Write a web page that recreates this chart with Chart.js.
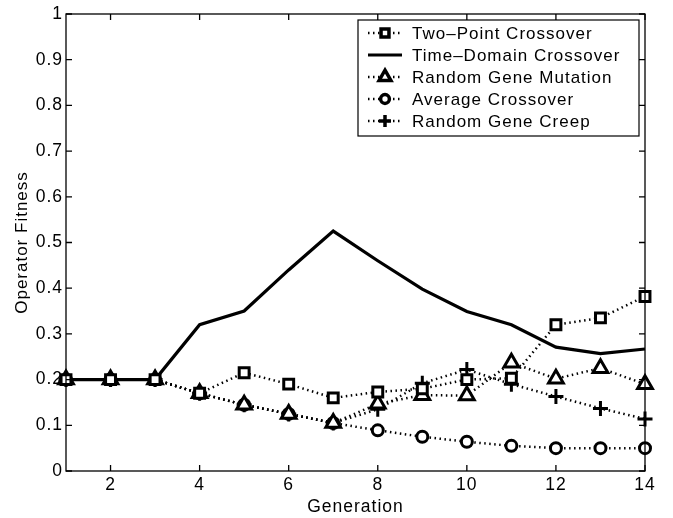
<!DOCTYPE html>
<html lang="en-US">
  <head>
    <meta charset="utf-8" />
    <title>Operator fitness per generation</title>
    <script src="https://cdn.jsdelivr.net/npm/chart.js@4.4.1/dist/chart.umd.min.js"></script>
    <style>
      html, body { margin: 0; padding: 0; background: #fff; }
      #wrap { width: 673px; height: 518px; }
    </style>
  </head>
  <body>
    <div id="wrap"><canvas id="chart"></canvas></div>

  <script>
    // Fitness of each GA operator over the generations
    const generations = [1, 2, 3, 4, 5, 6, 7, 8, 9, 10, 11, 12, 13, 14];
    const twoPoint    = [0.2, 0.2, 0.2, 0.17, 0.215, 0.19, 0.16, 0.173, 0.18, 0.2, 0.203, 0.32, 0.335, 0.382];
    const timeDomain  = [0.2, 0.2, 0.2, 0.32, 0.35, 0.44, 0.525, 0.46, 0.398, 0.349, 0.32, 0.271, 0.257, 0.267];
    const mutation    = [0.2, 0.2, 0.2, 0.17, 0.145, 0.125, 0.105, 0.147, 0.166, 0.165, 0.237, 0.202, 0.225, 0.19];
    const average     = [0.2, 0.2, 0.2, 0.17, 0.145, 0.125, 0.105, 0.089, 0.075, 0.064, 0.055, 0.05, 0.05, 0.05];
    const creep       = [0.2, 0.2, 0.2, 0.17, 0.145, 0.125, 0.105, 0.135, 0.192, 0.222, 0.19, 0.163, 0.137, 0.114];

    const seriesNames = ['Two\u2013Point Crossover', 'Time\u2013Domain Crossover', 'Random Gene Mutation', 'Average Crossover', 'Random Gene Creep'];
    const xTickValues = [2, 4, 6, 8, 10, 12, 14];
    const yTickValues = [0, 0.1, 0.2, 0.3, 0.4, 0.5, 0.6, 0.7, 0.8, 0.9, 1];

    const FONT = 'Arial, "Liberation Sans", Helvetica, sans-serif';
    const DOTS = [1.5, 3.5];

    function pts(values) {
      return values.map((v, i) => ({ x: generations[i], y: v }));
    }

    function series(label, values, style, radius, dash, width) {
      return {
        label: label,
        data: pts(values),
        borderColor: '#000',
        backgroundColor: '#000',
        borderWidth: width,
        borderDash: dash,
        pointStyle: style,
        pointRadius: radius,
        pointBorderWidth: 3,
        pointBackgroundColor: '#fff',
        pointBorderColor: '#000',
        clip: false,
        tension: 0
      };
    }

    const datasets = [
      series(seriesNames[0], twoPoint, 'rect', 7, DOTS, 2.5),
      series(seriesNames[1], timeDomain, false, 0, [], 3.2),
      series(seriesNames[2], mutation, 'triangle', 8.5, DOTS, 2.5),
      series(seriesNames[3], average, 'circle', 5.5, DOTS, 2.5),
      series(seriesNames[4], creep, 'cross', 7.5, DOTS, 2.5)
    ];

    // slightly wider lettering for every label on the canvas
    const spacingPlugin = {
      id: 'spacing',
      beforeDraw(chart) { chart.ctx.letterSpacing = '1px'; }
    };

    // box around the axes with inward ticks on every side
    const framePlugin = {
      id: 'frame',
      afterDatasetsDraw(chart) {
        const { ctx, chartArea: a, scales } = chart;
        ctx.save();
        ctx.strokeStyle = '#000';
        ctx.lineWidth = 1.3;
        ctx.strokeRect(a.left, a.top, a.right - a.left, a.bottom - a.top);
        ctx.beginPath();
        const len = 6;
        xTickValues.forEach(v => {
          const x = scales.x.getPixelForValue(v);
          ctx.moveTo(x, a.bottom); ctx.lineTo(x, a.bottom - len);
          ctx.moveTo(x, a.top); ctx.lineTo(x, a.top + len);
        });
        yTickValues.forEach(v => {
          const y = scales.y.getPixelForValue(v);
          ctx.moveTo(a.left, y); ctx.lineTo(a.left + len, y);
          ctx.moveTo(a.right, y); ctx.lineTo(a.right - len, y);
        });
        ctx.stroke();
        ctx.restore();
      }
    };

    // boxed legend in the upper right with line sample and marker
    const legendPlugin = {
      id: 'boxLegend',
      afterDraw(chart) {
        const { ctx } = chart;
        const box = { left: 358, top: 20, right: 639, bottom: 136 };
        ctx.save();
        ctx.fillStyle = '#fff';
        ctx.fillRect(box.left, box.top, box.right - box.left, box.bottom - box.top);
        ctx.strokeStyle = '#000';
        ctx.lineWidth = 1.2;
        ctx.strokeRect(box.left, box.top, box.right - box.left, box.bottom - box.top);

        chart.data.datasets.forEach((ds, i) => {
          const y = 33 + i * 22;
          ctx.strokeStyle = '#000';
          ctx.lineWidth = ds.borderWidth;
          ctx.setLineDash(ds.borderDash);
          ctx.beginPath();
          ctx.moveTo(368, y);
          ctx.lineTo(402, y);
          ctx.stroke();
          ctx.setLineDash([]);
          if (ds.pointStyle) {
            ctx.fillStyle = ds.pointBackgroundColor;
            ctx.strokeStyle = ds.pointBorderColor;
            ctx.lineWidth = 3.5;
            Chart.helpers.drawPoint(ctx, {
              pointStyle: ds.pointStyle,
              radius: ds.pointRadius * 0.8,
              borderWidth: 3.5,
              rotation: 0
            }, 385, y);
          }
          ctx.fillStyle = '#000';
          ctx.font = '17px ' + FONT;
          ctx.textBaseline = 'middle';
          ctx.textAlign = 'left';
          ctx.fillText(ds.label, 412, y + 1);
        });
        ctx.restore();
      }
    };

    new Chart(document.getElementById('chart'), {
      type: 'line',
      data: { datasets: datasets },
      plugins: [spacingPlugin, framePlugin, legendPlugin],
      options: {
        responsive: true,
        maintainAspectRatio: false,
        animation: false,
        layout: { padding: { top: 14, right: 28, left: 0, bottom: 0 } },
        plugins: {
          legend: { display: false },
          tooltip: { enabled: false }
        },
        scales: {
          x: {
            type: 'linear',
            min: 1,
            max: 14,
            grid: { display: false, drawTicks: false },
            border: { display: false },
            afterBuildTicks: s => { s.ticks = xTickValues.map(v => ({ value: v })); },
            afterFit: s => { s.height = 47; },
            ticks: {
              color: '#000',
              padding: 4,
              maxRotation: 0,
              font: { family: FONT, size: 17.5 }
            },
            title: {
              display: true,
              text: 'Generation',
              color: '#000',
              padding: { top: 0, bottom: 0 },
              font: { family: FONT, size: 17.5, lineHeight: 1.2 }
            }
          },
          y: {
            min: 0,
            max: 1,
            grid: { display: false, drawTicks: false },
            border: { display: false },
            afterBuildTicks: s => { s.ticks = yTickValues.map(v => ({ value: v })); },
            afterFit: s => { s.width = 66; },
            ticks: {
              color: '#000',
              padding: 3,
              callback: v => String(+v.toFixed(1)),
              font: { family: FONT, size: 17.5 }
            },
            title: {
              display: true,
              text: 'Operator Fitness',
              color: '#000',
              padding: { top: 12, bottom: 0 },
              font: { family: FONT, size: 17, lineHeight: 1.2 }
            }
          }
        }
      }
    });
  </script>
  </body>
</html>
